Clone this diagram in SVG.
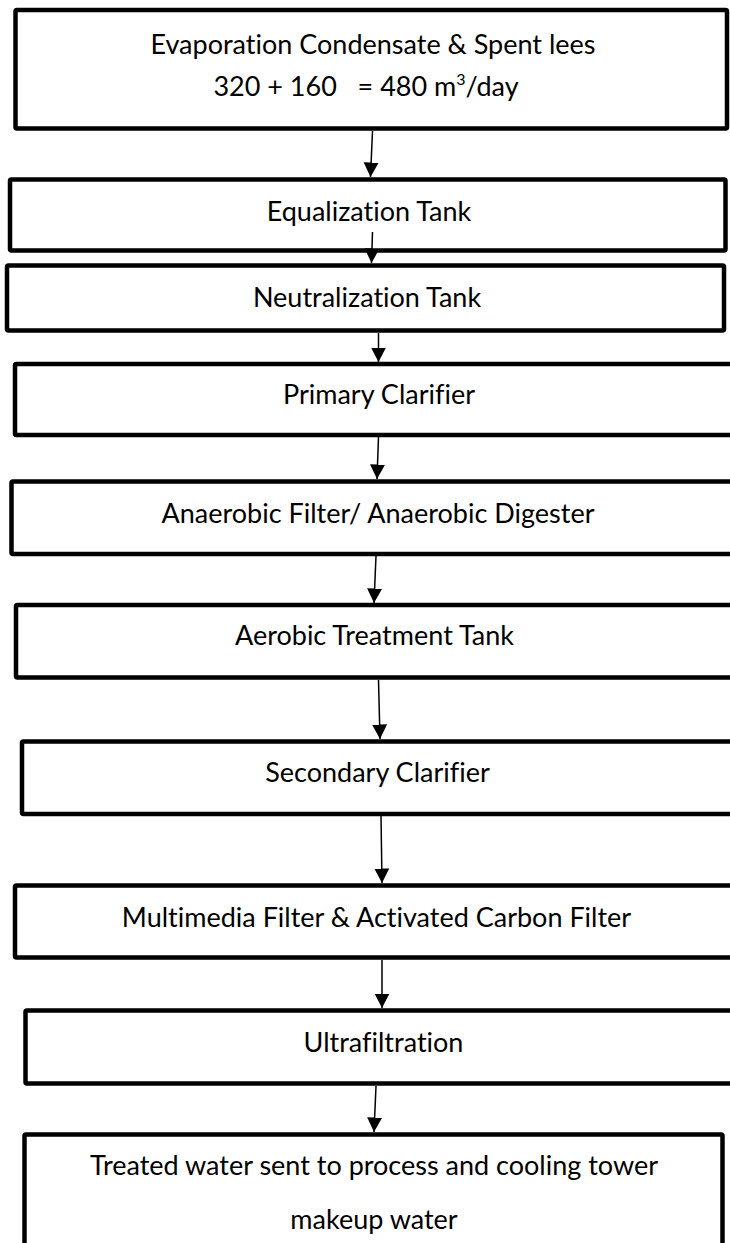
<svg xmlns="http://www.w3.org/2000/svg" width="730" height="1243" viewBox="0 0 730 1243">
<style>
  .box { fill: #ffffff; stroke: #000000; stroke-width: 4.5; stroke-linejoin: round; }
  .lbl { font-family: Lato, "Open Sans", "Liberation Sans", sans-serif; font-size: 27px; fill: #000000; text-anchor: middle; font-variant-ligatures: none; font-feature-settings: "liga" 0, "dlig" 0; }
  .conn line { stroke: #000000; stroke-width: 1.5; }
</style>
<defs>
  <marker id="ah" markerUnits="userSpaceOnUse" markerWidth="16" markerHeight="16" refX="14.5" refY="8" orient="auto" viewBox="0 0 16 16">
    <path d="M0,0.5 L14.5,8 L0,15.5 Z" fill="#000000"/>
  </marker>
</defs>
<rect width="730" height="1243" fill="#ffffff"/>

<g id="n1">
  <rect class="box" x="15.5" y="10" width="711.5" height="118.5" rx="1.5"/>
  <text class="lbl" x="373" y="54">Evaporation Condensate &amp; Spent lees</text>
  <text class="lbl" x="366" y="96" style="white-space:pre">320 + 160   = 480 m<tspan font-size="16" dy="-11">3</tspan><tspan dy="11">/day</tspan></text>
</g>
<g id="n2">
  <rect class="box" x="10" y="179.5" width="715.5" height="71" rx="1.5"/>
  <text class="lbl" x="369" y="221">Equalization Tank</text>
</g>
<g id="n3">
  <rect class="box" x="7" y="265.5" width="717" height="65" rx="1.5"/>
  <text class="lbl" x="367" y="307">Neutralization Tank</text>
</g>
<g id="n4">
  <rect class="box" x="15" y="364" width="730" height="71" rx="1.5"/>
  <text class="lbl" x="379" y="404">Primary Clarifier</text>
</g>
<g id="n5">
  <rect class="box" x="11.5" y="481.5" width="730" height="72.5" rx="1.5"/>
  <text class="lbl" x="378" y="523">Anaerobic Filter/ Anaerobic Digester</text>
</g>
<g id="n6">
  <rect class="box" x="16" y="605" width="730" height="72.5" rx="1.5"/>
  <text class="lbl" x="374.5" y="645">Aerobic Treatment Tank</text>
</g>
<g id="n7">
  <rect class="box" x="22" y="741.5" width="730" height="72.5" rx="1.5"/>
  <text class="lbl" x="377.5" y="782">Secondary Clarifier</text>
</g>
<g id="n8">
  <rect class="box" x="15" y="885.5" width="730" height="72" rx="1.5"/>
  <text class="lbl" x="376.5" y="927">Multimedia Filter &amp; Activated Carbon Filter</text>
</g>
<g id="n9">
  <rect class="box" x="25.5" y="1010.5" width="730" height="73" rx="1.5"/>
  <text class="lbl" x="383.5" y="1052">Ultrafiltration</text>
</g>
<g id="n10">
  <rect class="box" x="24.5" y="1134.5" width="698" height="140" rx="1.5"/>
  <text class="lbl" x="374" y="1175">Treated water sent to process and cooling tower</text>
  <text class="lbl" x="374" y="1229">makeup water</text>
</g>

<g id="connectors" class="conn">
  <line x1="372.5" y1="131" x2="370.5" y2="177" marker-end="url(#ah)"/>
  <line x1="372.5" y1="232" x2="371.5" y2="263" marker-end="url(#ah)"/>
  <line x1="378.5" y1="333" x2="378.5" y2="362" marker-end="url(#ah)"/>
  <line x1="378.5" y1="437" x2="377" y2="479" marker-end="url(#ah)"/>
  <line x1="376" y1="556" x2="374" y2="603" marker-end="url(#ah)"/>
  <line x1="378.5" y1="680" x2="380" y2="739" marker-end="url(#ah)"/>
  <line x1="381" y1="816" x2="382" y2="883" marker-end="url(#ah)"/>
  <line x1="382" y1="960" x2="382" y2="1008" marker-end="url(#ah)"/>
  <line x1="376" y1="1086" x2="374" y2="1132" marker-end="url(#ah)"/>
</g>
</svg>
